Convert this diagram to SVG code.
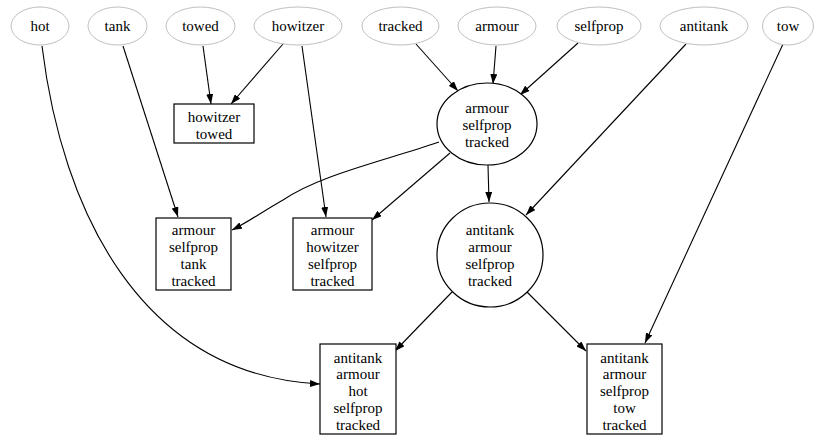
<svg xmlns="http://www.w3.org/2000/svg" width="815" height="435" viewBox="0 0 815 435">
<defs>
<marker id="arr" markerWidth="10" markerHeight="7" refX="10" refY="3.5" orient="auto" markerUnits="userSpaceOnUse">
<path d="M0,0 L10,3.5 L0,7 z" fill="#000"/>
</marker>
<style>
.src{fill:#fff;stroke:#c0c0c0;stroke-width:1}
.set{fill:#fff;stroke:#000;stroke-width:1.2}
.e{fill:none;stroke:#000;stroke-width:1.1;marker-end:url(#arr)}
</style>
</defs>
<rect width="815" height="435" fill="#fff"/>
<g id="edges">
<path class="e" d="M42,46 C62,210 140,375 320,384"/>
<path class="e" d="M123,46 L178,217"/>
<path class="e" d="M203,46 L211,104"/>
<path class="e" d="M283,44 L231,104"/>
<path class="e" d="M302,46 L326,217"/>
<path class="e" d="M416,44 L458,91"/>
<path class="e" d="M496,46 L493,84"/>
<path class="e" d="M578,43 L520,95"/>
<path class="e" d="M686,44 L526,215"/>
<path class="e" d="M783,44 L645,343"/>
<path class="e" d="M439,142 C380,162 320,175 283,200 C262,212 248,222 232,230"/>
<path class="e" d="M450,153 L372,220"/>
<path class="e" d="M488,165 L489,202"/>
<path class="e" d="M452,292 L395,351"/>
<path class="e" d="M527,292 L586,351"/>
</g>
<g font-family="'Liberation Serif', 'Times New Roman', 'DejaVu Serif', serif" font-size="15" text-anchor="middle" fill="#000">
<g id="hot"><ellipse class="src" cx="40" cy="26" rx="29" ry="19"/><text x="40" y="31">hot</text></g>
<g id="tank"><ellipse class="src" cx="117.5" cy="26" rx="29.5" ry="19"/><text x="117.5" y="31">tank</text></g>
<g id="towed"><ellipse class="src" cx="200.5" cy="26" rx="34.5" ry="19"/><text x="200.5" y="31">towed</text></g>
<g id="howitzer"><ellipse class="src" cx="298" cy="26" rx="44" ry="19"/><text x="298" y="31">howitzer</text></g>
<g id="tracked"><ellipse class="src" cx="400.5" cy="26" rx="38.5" ry="19"/><text x="400.5" y="31">tracked</text></g>
<g id="armour"><ellipse class="src" cx="497" cy="26" rx="39" ry="19"/><text x="497" y="31">armour</text></g>
<g id="selfprop"><ellipse class="src" cx="599" cy="26" rx="42" ry="19"/><text x="599" y="31">selfprop</text></g>
<g id="antitank"><ellipse class="src" cx="704" cy="26" rx="44" ry="19"/><text x="704" y="31">antitank</text></g>
<g id="tow"><ellipse class="src" cx="788" cy="26" rx="25.5" ry="19"/><text x="788" y="31">tow</text></g>
<g id="howitzer_towed"><rect class="set" x="174" y="104" width="80" height="39"/><text x="214" y="122">howitzer</text><text x="214" y="139">towed</text></g>
<g id="armour_selfprop_tracked"><ellipse class="set" cx="487" cy="124" rx="50" ry="41"/><text x="487" y="113">armour</text><text x="487" y="130">selfprop</text><text x="487" y="147">tracked</text></g>
<g id="armour_selfprop_tank_tracked"><rect class="set" x="156" y="218" width="75" height="72"/><text x="193.5" y="235">armour</text><text x="193.5" y="252">selfprop</text><text x="193.5" y="269">tank</text><text x="193.5" y="286">tracked</text></g>
<g id="armour_howitzer_selfprop_tracked"><rect class="set" x="293" y="218" width="79" height="72"/><text x="332.5" y="235">armour</text><text x="332.5" y="252">howitzer</text><text x="332.5" y="269">selfprop</text><text x="332.5" y="286">tracked</text></g>
<g id="antitank_armour_selfprop_tracked"><ellipse class="set" cx="490" cy="255" rx="53" ry="52"/><text x="490" y="235">antitank</text><text x="490" y="252">armour</text><text x="490" y="269">selfprop</text><text x="490" y="286">tracked</text></g>
<g id="antitank_armour_hot_selfprop_tracked"><rect class="set" x="320" y="344" width="76" height="90"/><text x="358" y="363">antitank</text><text x="358" y="379">armour</text><text x="358" y="396">hot</text><text x="358" y="413">selfprop</text><text x="358" y="430">tracked</text></g>
<g id="antitank_armour_selfprop_tow_tracked"><rect class="set" x="587" y="344" width="75" height="90"/><text x="624.5" y="363">antitank</text><text x="624.5" y="379">armour</text><text x="624.5" y="396">selfprop</text><text x="624.5" y="413">tow</text><text x="624.5" y="430">tracked</text></g>
</g>
</svg>
